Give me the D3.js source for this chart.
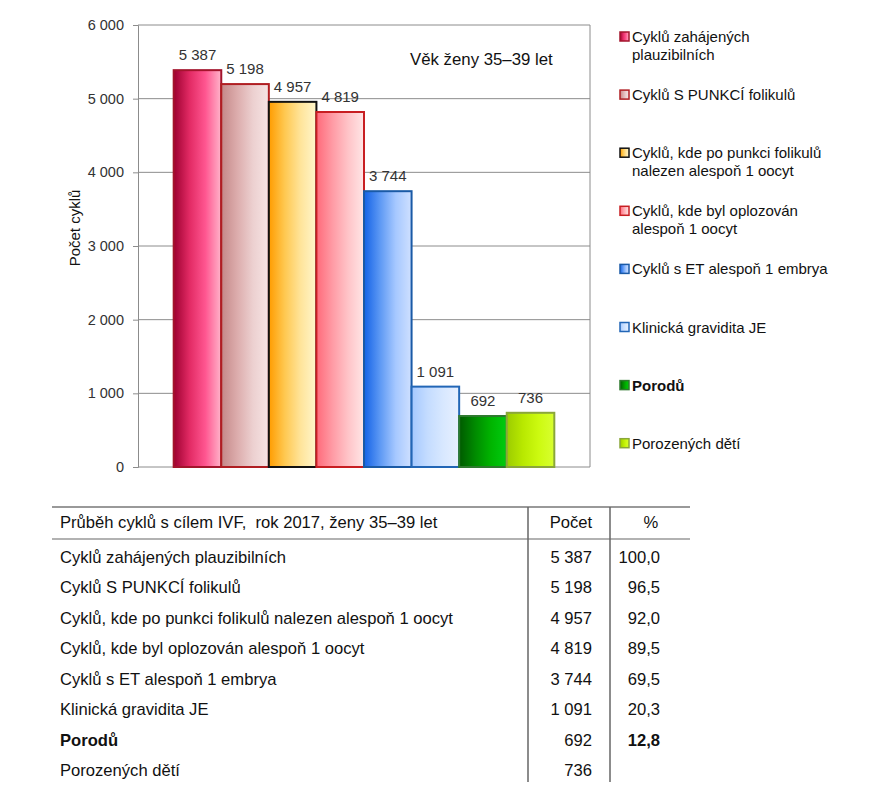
<!DOCTYPE html>
<html>
<head>
<meta charset="utf-8">
<script src="https://cdn.jsdelivr.net/npm/d3@7"></script>
<style>
  body { margin: 0; background: #fff; }
  svg { display: block; font-family: "Liberation Sans", Arial, sans-serif; }
</style>
</head>
<body>
<div id="chart"></div>
<script>
"use strict";

// data
const seriesNames = [
    "Cyklů zahájených plauzibilních",
    "Cyklů S PUNKCÍ folikulů",
    "Cyklů, kde po punkci folikulů nalezen alespoň 1 oocyt",
    "Cyklů, kde byl oplozován alespoň 1 oocyt",
    "Cyklů s ET alespoň 1 embrya",
    "Klinická gravidita JE",
    "Porodů",
    "Porozených dětí"
];
const legendLines = [
    ["Cyklů zahájených", "plauzibilních"],
    ["Cyklů S PUNKCÍ folikulů"],
    ["Cyklů, kde po punkci folikulů", "nalezen alespoň 1 oocyt"],
    ["Cyklů, kde byl oplozován", "alespoň 1 oocyt"],
    ["Cyklů s ET alespoň 1 embrya"],
    ["Klinická gravidita JE"],
    ["Porodů"],
    ["Porozených dětí"]
];
const counts = [5387, 5198, 4957, 4819, 3744, 1091, 692, 736];
const percents = ["100,0", "96,5", "92,0", "89,5", "69,5", "20,3", "12,8", ""];
const boldRows = ["Porodů"];
const yTicks = [0, 1000, 2000, 3000, 4000, 5000, 6000];
const chartTitle = "Věk ženy 35–39 let";
const yTitle = "Počet cyklů";
const tableHeader = ["Průběh cyklů s cílem IVF,  rok 2017, ženy 35–39 let", "Počet", "%"];

// look of each bar: gradient stops (left to right) and outline
const barStyles = [
    { stops: ["#9c0030", "#e22a64", "#ff5690", "#ffb4ca"], stroke: "#a3142c" },
    { stops: ["#c48888", "#dcacac", "#ecd0d0", "#f6e4e4"], stroke: "#b01e22" },
    { stops: ["#ff9c00", "#ffc850", "#ffe49a", "#fff6cc"], stroke: "#111111" },
    { stops: ["#ff6a7a", "#ff9aa4", "#ffc4c8", "#ffe6e6"], stroke: "#c81e22" },
    { stops: ["#1462e6", "#5c98f4", "#a6c8ff", "#cfe0ff"], stroke: "#1a5aa6" },
    { stops: ["#a4c8ff", "#c4dcff", "#d8e8ff", "#e8f0ff"], stroke: "#2266b6" },
    { stops: ["#005a00", "#008a00", "#00b400", "#00cc10"], stroke: "#2e7a2e" },
    { stops: ["#9ccc00", "#b8e800", "#ccfa10", "#d8ff30"], stroke: "#8aa63a" }
];

const locale = d3.formatLocale({ decimal: ",", thousands: "\u00a0", grouping: [3], currency: ["", ""] });
const fmt = locale.format(",d");

const width = 871, height = 800;
const plot = { left: 138, right: 590, top: 25, bottom: 467 };

const svg = d3.select("#chart").append("svg")
    .attr("width", width)
    .attr("height", height);

svg.append("rect").attr("width", width).attr("height", height).attr("fill", "#fff");

const defs = svg.append("defs");
barStyles.forEach((s, i) => {
    const g = defs.append("linearGradient")
        .attr("id", "grad" + i)
        .attr("x1", 0).attr("x2", 1).attr("y1", 0).attr("y2", 0);
    s.stops.forEach((c, k) => {
        g.append("stop").attr("offset", k / (s.stops.length - 1)).attr("stop-color", c);
    });
});

const x = d3.scaleBand()
    .domain(seriesNames)
    .range([plot.left, plot.right])
    .paddingInner(0)
    .paddingOuter(0.75);

const y = d3.scaleLinear()
    .domain([0, 6000])
    .range([plot.bottom, plot.top]);

// gridlines
svg.append("g")
    .selectAll("line")
    .data(yTicks.filter(d => d > 0))
    .join("line")
    .attr("x1", plot.left).attr("x2", plot.right)
    .attr("y1", d => y(d)).attr("y2", d => y(d))
    .attr("stroke", "#8c8c8c")
    .attr("stroke-width", 1);

// right border of plot area
svg.append("line")
    .attr("x1", plot.right).attr("x2", plot.right)
    .attr("y1", plot.top).attr("y2", plot.bottom)
    .attr("stroke", "#8c8c8c");

// y axis
const yAxis = d3.axisLeft(y)
    .tickValues(yTicks)
    .tickSize(5)
    .tickPadding(9)
    .tickFormat(fmt);

const yAxisG = svg.append("g")
    .attr("transform", `translate(${plot.left},0)`)
    .call(yAxis);
yAxisG.select(".domain").attr("stroke", "#8c8c8c");
yAxisG.selectAll(".tick line").attr("stroke", "#8c8c8c");
yAxisG.selectAll(".tick text")
    .attr("fill", "#333")
    .style("font-size", "14.5px")
    .style("font-family", "'Liberation Sans', Arial, sans-serif");

// x axis baseline
svg.append("line")
    .attr("x1", plot.left).attr("x2", plot.right)
    .attr("y1", plot.bottom).attr("y2", plot.bottom)
    .attr("stroke", "#8c8c8c");

// bars
svg.append("g")
    .selectAll("rect")
    .data(seriesNames)
    .join("rect")
    .attr("x", d => x(d))
    .attr("y", (d, i) => y(counts[i]))
    .attr("width", x.bandwidth())
    .attr("height", (d, i) => y(0) - y(counts[i]))
    .attr("fill", (d, i) => `url(#grad${i})`)
    .attr("stroke", (d, i) => barStyles[i].stroke)
    .attr("stroke-width", 2);

// value labels
svg.append("g")
    .selectAll("text")
    .data(seriesNames)
    .join("text")
    .attr("x", d => x(d) + x.bandwidth() / 2)
    .attr("y", (d, i) => y(counts[i]) - 10)
    .attr("text-anchor", "middle")
    .attr("fill", "#333")
    .style("font-size", "15px")
    .text((d, i) => fmt(counts[i]));

// title inside plot
svg.append("text")
    .attr("x", 410)
    .attr("y", 65)
    .attr("fill", "#111")
    .style("font-size", "16.8px")
    .text(chartTitle);

// y axis title
svg.append("text")
    .attr("transform", "translate(80,228) rotate(-90)")
    .attr("text-anchor", "middle")
    .attr("fill", "#111")
    .style("font-size", "15px")
    .text(yTitle);

// legend
const legend = svg.append("g");
const legendItems = legend.selectAll("g")
    .data(seriesNames)
    .join("g")
    .attr("transform", (d, i) => `translate(620,${37 + i * 58.1})`);

legendItems.append("rect")
    .attr("x", 0).attr("y", -5)
    .attr("width", 9).attr("height", 9)
    .attr("fill", (d, i) => `url(#grad${i})`)
    .attr("stroke", (d, i) => barStyles[i].stroke)
    .attr("stroke-width", 1.5);

legendItems.each(function (d, i) {
    const t = d3.select(this).append("text")
        .attr("x", 12)
        .attr("y", 5)
        .attr("fill", "#111")
        .style("font-size", "15px")
        .style("font-weight", boldRows.includes(d) ? "bold" : "normal");
    legendLines[i].forEach((line, k) => {
        t.append("tspan").attr("x", 12).attr("dy", k === 0 ? 0 : 17.5).text(line);
    });
});

// table
const table = { left: 52, right: 690, top: 507, headerLine: 539, col1: 528, col2: 610, bottom: 782 };
const rowY = d3.scaleLinear().domain([0, 1]).range([562.5, 593]);

const tg = svg.append("g").style("font-size", "16.6px").attr("fill", "#111");

tg.append("line")
    .attr("x1", table.left).attr("x2", table.right)
    .attr("y1", table.top).attr("y2", table.top)
    .attr("stroke", "#777").attr("stroke-width", 1.5);
tg.append("line")
    .attr("x1", table.left).attr("x2", table.right)
    .attr("y1", table.headerLine).attr("y2", table.headerLine)
    .attr("stroke", "#999").attr("stroke-width", 1.5);
[table.col1, table.col2].forEach(cx => {
    tg.append("line")
        .attr("x1", cx).attr("x2", cx)
        .attr("y1", table.top).attr("y2", table.bottom)
        .attr("stroke", "#666").attr("stroke-width", 1.5);
});

tg.append("text").attr("x", 60).attr("y", 528).style("white-space", "pre").text(tableHeader[0]);
tg.append("text").attr("x", 571).attr("y", 528).attr("text-anchor", "middle").text(tableHeader[1]);
tg.append("text").attr("x", 651).attr("y", 528).attr("text-anchor", "middle").text(tableHeader[2]);

const rows = tg.selectAll("g.row")
    .data(seriesNames)
    .join("g")
    .attr("class", "row")
    .attr("transform", (d, i) => `translate(0,${rowY(i)})`)
    .style("font-weight", d => boldRows.includes(d) ? "bold" : "normal");

rows.append("text").attr("x", 60).text(d => d);
rows.append("text").attr("x", 592).attr("text-anchor", "end")
    .style("font-weight", "normal")
    .text((d, i) => fmt(counts[i]));
rows.append("text").attr("x", 660).attr("text-anchor", "end").text((d, i) => percents[i]);
</script>
</body>
</html>
